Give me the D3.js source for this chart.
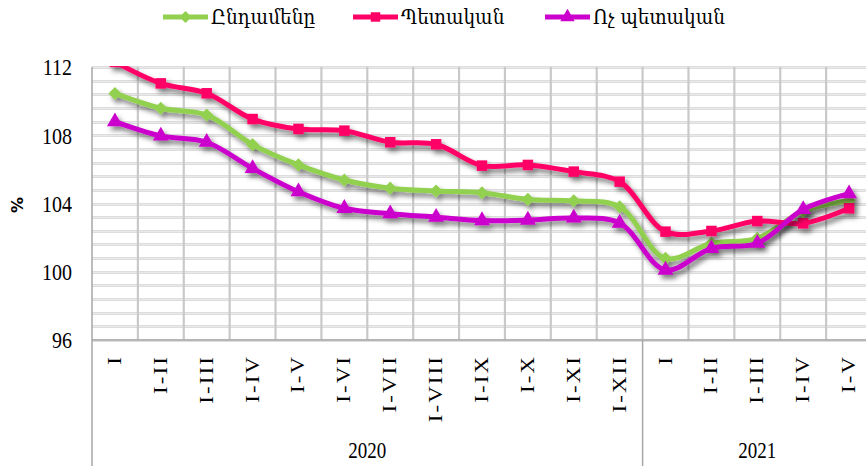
<!DOCTYPE html>
<html>
<head>
<meta charset="utf-8">
<script src="https://cdn.jsdelivr.net/npm/d3@7"></script>
<style>
  body { margin: 0; background: #fff; }
  svg { display: block; }
</style>
</head>
<body>
<div id="chart"></div>
<script>
// categories (cumulative months), two years
const categories = ["I", "I-II", "I-III", "I-IV", "I-V", "I-VI", "I-VII", "I-VIII", "I-IX", "I-X", "I-XI", "I-XII",
  "I", "I-II", "I-III", "I-IV", "I-V"];
const yearLabels = ["2020", "2021"];
const yearSpans = [12, 5];

// series values, %
const totalValues = [110.45, 109.58, 109.19, 107.45, 106.26, 105.38, 104.9, 104.73, 104.63, 104.24, 104.16, 103.81,
  100.78, 101.67, 101.96, 103.55, 104.18];
const stateValues = [112.3, 111.04, 110.46, 108.95, 108.37, 108.27, 107.59, 107.47, 106.22, 106.26, 105.87, 105.28,
  102.35, 102.39, 102.97, 102.84, 103.72];
const nonStateValues = [108.8, 107.96, 107.59, 106.06, 104.69, 103.72, 103.4, 103.2, 103.0, 103.03, 103.15, 102.85,
  100.1, 101.37, 101.67, 103.65, 104.58];

const seriesNames = ["Ընդամենը", "Պետական", "Ոչ պետական"];
const yTicks = [96, 100, 104, 108, 112];

const series = [
  { name: seriesNames[0], values: totalValues, color: "#92d050", marker: d3.symbolDiamond2 },
  { name: seriesNames[1], values: stateValues, color: "#ff0066", marker: d3.symbolSquare },
  { name: seriesNames[2], values: nonStateValues, color: "#cc00cc", marker: d3.symbolTriangle },
];

const width = 866, height = 466;
const plot = { left: 92, top: 67, right: 872, bottom: 340 };
const serif = "'Liberation Serif', 'Times New Roman', serif";

const svg = d3.select("#chart").append("svg")
  .attr("width", width)
  .attr("height", height);

const defs = svg.append("defs");
const shadow = defs.append("filter").attr("id", "shadow")
  .attr("x", "-10%").attr("y", "-10%").attr("width", "130%").attr("height", "140%");
shadow.append("feDropShadow")
  .attr("dx", 3).attr("dy", 4).attr("stdDeviation", 2.5)
  .attr("flood-color", "#000").attr("flood-opacity", 0.5);

defs.append("clipPath").attr("id", "clip")
  .append("rect")
  .attr("x", plot.left).attr("y", plot.top - 1)
  .attr("width", plot.right - plot.left).attr("height", height);

const x = d3.scaleBand()
  .domain(d3.range(categories.length))
  .range([plot.left, plot.right]);

const y = d3.scaleLinear()
  .domain([96, 112])
  .range([plot.bottom, plot.top]);

// horizontal grid, minor step 0.8
const hLines = d3.range(96, 112.001, 0.8);
svg.append("g")
  .selectAll("line")
  .data(hLines)
  .join("line")
  .attr("x1", plot.left).attr("x2", plot.right)
  .attr("y1", d => Math.round(y(d)) + 0.5).attr("y2", d => Math.round(y(d)) + 0.5)
  .attr("stroke", "#d2d2d2")
  .attr("stroke-width", 2.5);
svg.append("g")
  .selectAll("line")
  .data(hLines)
  .join("line")
  .attr("x1", plot.left).attr("x2", plot.right)
  .attr("y1", d => Math.round(y(d)) + 0.5).attr("y2", d => Math.round(y(d)) + 0.5)
  .attr("stroke", "#f0f0f0")
  .attr("stroke-width", 0.8);

// vertical grid at category boundaries
svg.append("g")
  .selectAll("line")
  .data(d3.range(1, categories.length + 1))
  .join("line")
  .attr("x1", d => x.range()[0] + d * x.step()).attr("x2", d => x.range()[0] + d * x.step())
  .attr("y1", plot.top).attr("y2", plot.bottom)
  .attr("stroke", "#c9c9c9")
  .attr("stroke-width", 2.2);

// axes lines
svg.append("line")
  .attr("x1", plot.left).attr("x2", plot.left)
  .attr("y1", plot.top).attr("y2", height)
  .attr("stroke", "#a6a6a6").attr("stroke-width", 1.5);
svg.append("line")
  .attr("x1", plot.left).attr("x2", plot.right)
  .attr("y1", plot.bottom).attr("y2", plot.bottom)
  .attr("stroke", "#a6a6a6").attr("stroke-width", 1.5);

// y tick labels
svg.append("g")
  .selectAll("text")
  .data(yTicks)
  .join("text")
  .attr("transform", d => `translate(72,${y(d)}) scale(1,1.2)`)
  .attr("text-anchor", "end")
  .attr("dy", "0.35em")
  .style("font-family", serif)
  .style("font-size", "20px")
  .text(d => d);

svg.append("text")
  .attr("transform", "translate(23,205) rotate(-90)")
  .attr("text-anchor", "middle")
  .style("font-family", "'DejaVu Sans', sans-serif")
  .style("font-weight", "bold")
  .style("font-size", "16px")
  .text("%");

// category labels, rotated
svg.append("g")
  .selectAll("text")
  .data(d3.range(categories.length))
  .join("text")
  .attr("transform", i => `translate(${x(i) + x.bandwidth() / 2 + 6},355) scale(1,1.2) rotate(-90)`)
  .attr("text-anchor", "end")
  .style("font-family", serif)
  .style("font-size", "19px")
  .style("letter-spacing", "1.8px")
  .text(i => categories[i]);

// year groups
let start = 0;
yearLabels.forEach((label, k) => {
  const x0 = x.range()[0] + start * x.step();
  const x1 = x0 + yearSpans[k] * x.step();
  if (k > 0) {
    svg.append("line")
      .attr("x1", x0).attr("x2", x0)
      .attr("y1", plot.bottom).attr("y2", height)
      .attr("stroke", "#a6a6a6").attr("stroke-width", 1.5);
  }
  svg.append("text")
    .attr("transform", `translate(${(x0 + x1) / 2},458) scale(1,1.2)`)
    .attr("text-anchor", "middle")
    .style("font-family", serif)
    .style("font-size", "19px")
    .text(label);
  start += yearSpans[k];
});

// lines
const line = d3.line()
  .x((d, i) => x(i) + x.bandwidth() / 2)
  .y(d => y(d))
  .curve(d3.curveCatmullRom.alpha(0.5));

const plotG = svg.append("g").attr("clip-path", "url(#clip)");

series.forEach(s => {
  const g = plotG.append("g").attr("filter", "url(#shadow)");
  g.append("path")
    .datum(s.values)
    .attr("d", line)
    .attr("fill", "none")
    .attr("stroke", s.color)
    .attr("stroke-width", 5)
    .attr("stroke-linejoin", "round");
  g.selectAll("path.marker")
    .data(s.values)
    .join("path")
    .attr("class", "marker")
    .attr("transform", (d, i) => `translate(${x(i) + x.bandwidth() / 2},${y(d)})`)
    .attr("d", d3.symbol(s.marker, 110))
    .attr("fill", s.color);
});

// legend
const legendX = [163, 353, 545];
const legend = svg.append("g");
series.forEach((s, k) => {
  const lg = legend.append("g").attr("transform", `translate(${legendX[k]},17)`);
  lg.append("line")
    .attr("x1", 0).attr("x2", 45)
    .attr("stroke", s.color).attr("stroke-width", 5);
  lg.append("path")
    .attr("transform", "translate(22.5,0)")
    .attr("d", d3.symbol(s.marker, 90))
    .attr("fill", s.color);
  lg.append("text")
    .attr("transform", "translate(48,0) scale(1,1.12)")
    .attr("dy", "0.35em")
    .style("font-family", "'DejaVu Serif', serif")
    .style("font-size", "18.5px")
    .text(s.name);
});
</script>
</body>
</html>
